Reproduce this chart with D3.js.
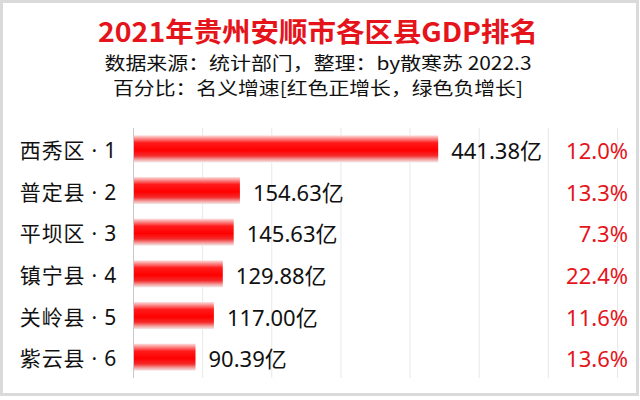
<!DOCTYPE html>
<html><head><meta charset="utf-8">
<script src="https://cdn.jsdelivr.net/npm/d3@7/dist/d3.min.js"></script>
<style>html,body{margin:0;padding:0;background:#fff}</style>
</head><body>
<svg id="c" width="640" height="400"></svg>
<script>
const categories = ["西秀区 · 1","普定县 · 2","平坝区 · 3","镇宁县 · 4","关岭县 · 5","紫云县 · 6"];
const gdpValues = [441.38,154.63,145.63,129.88,117.00,90.39];
const growthRates = ["12.0%","13.3%","7.3%","22.4%","11.6%","13.6%"];
const xTicks = [0,100,200,300,400,500,600,700];
const titleText = "2021年贵州安顺市各区县GDP排名";
const subtitle1 = "数据来源：统计部门，整理：by散寒苏 2022.3";
const subtitle2 = "百分比：名义增速[红色正增长，绿色负增长]";

const svg = d3.select("#c");
const font = "'Noto Sans CJK SC','Noto Sans',sans-serif";
const latinFont = "'Noto Sans','Noto Sans CJK SC',sans-serif";

svg.append("rect").attr("x",0).attr("y",0).attr("width",640).attr("height",400).attr("fill","#fff");
svg.append("rect").attr("x",1.5).attr("y",1.5).attr("width",636).attr("height",393)
  .attr("fill","none").attr("stroke","#dadada").attr("stroke-width",3);

const defs = svg.append("defs");
const g = defs.append("linearGradient").attr("id","barGrad").attr("x1",0).attr("x2",0).attr("y1",0).attr("y2",1);
[[0,"#fde2e2"],[0.12,"#fb8a8a"],[0.28,"#ff1a1a"],[0.55,"#ff0000"],[0.75,"#f42a2a"],[0.9,"#f5a5a5"],[1,"#f4e8e8"]]
  .forEach(([o,c])=>g.append("stop").attr("offset",o).attr("stop-color",c));

const x = d3.scaleLinear().domain([0,700]).range([133,617]);
const y = d3.scaleBand().domain(categories).range([128,378]).paddingInner(0.35).paddingOuter(0.175);

// gridlines
svg.append("g").selectAll("line").data(xTicks).join("line")
  .attr("x1",d=>x(d)+0.5).attr("x2",d=>x(d)+0.5)
  .attr("y1",128).attr("y2",378)
  .attr("stroke",d=>d===0?"#c8c8c8":"#e8e8e8").attr("stroke-width",1);

// bars
svg.append("g").selectAll("rect").data(gdpValues).join("rect")
  .attr("x",x(0)+1).attr("y",(d,i)=>y(categories[i]))
  .attr("width",d=>x(d)-x(0)-1).attr("height",y.bandwidth())
  .attr("fill","url(#barGrad)");

// category labels
svg.append("g").selectAll("text").data(categories).join("text")
  .attr("x",117).attr("y",d=>y(d)+y.bandwidth()/2+1)
  .attr("text-anchor","end").attr("dominant-baseline","central")
  .attr("font-family",latinFont).attr("font-size",21).attr("fill","#111")
  .attr("letter-spacing",0.8)
  .text(d=>d);

// value labels
svg.append("g").selectAll("text").data(gdpValues).join("text")
  .attr("x",d=>x(d)+13).attr("y",(d,i)=>y(categories[i])+y.bandwidth()/2+1)
  .attr("dominant-baseline","central")
  .attr("font-family",latinFont).attr("font-size",22).attr("fill","#111")
  .text(d=>d.toFixed(2)+"亿");

// growth labels
svg.append("g").selectAll("text").data(growthRates).join("text")
  .attr("x",628).attr("y",(d,i)=>y(categories[i])+y.bandwidth()/2+1)
  .attr("text-anchor","end").attr("dominant-baseline","central")
  .attr("font-family",latinFont).attr("font-size",22).attr("fill","#e5141b")
  .text(d=>d);

// titles
svg.append("text").attr("x",318).attr("y",42).attr("text-anchor","middle")
  .attr("font-family",font).attr("font-weight","bold").attr("font-size",27)
  .attr("fill","#e5141b").attr("textLength",440).attr("lengthAdjust","spacingAndGlyphs")
  .text(titleText);
svg.append("text").attr("x",318).attr("y",70).attr("text-anchor","middle")
  .attr("font-family",font).attr("font-size",18).attr("fill","#111")
  .attr("textLength",427).attr("lengthAdjust","spacingAndGlyphs")
  .text(subtitle1);
svg.append("text").attr("x",318).attr("y",95).attr("text-anchor","middle")
  .attr("font-family",font).attr("font-size",18).attr("fill","#111")
  .attr("textLength",410).attr("lengthAdjust","spacingAndGlyphs")
  .text(subtitle2);
</script>
</body></html>
